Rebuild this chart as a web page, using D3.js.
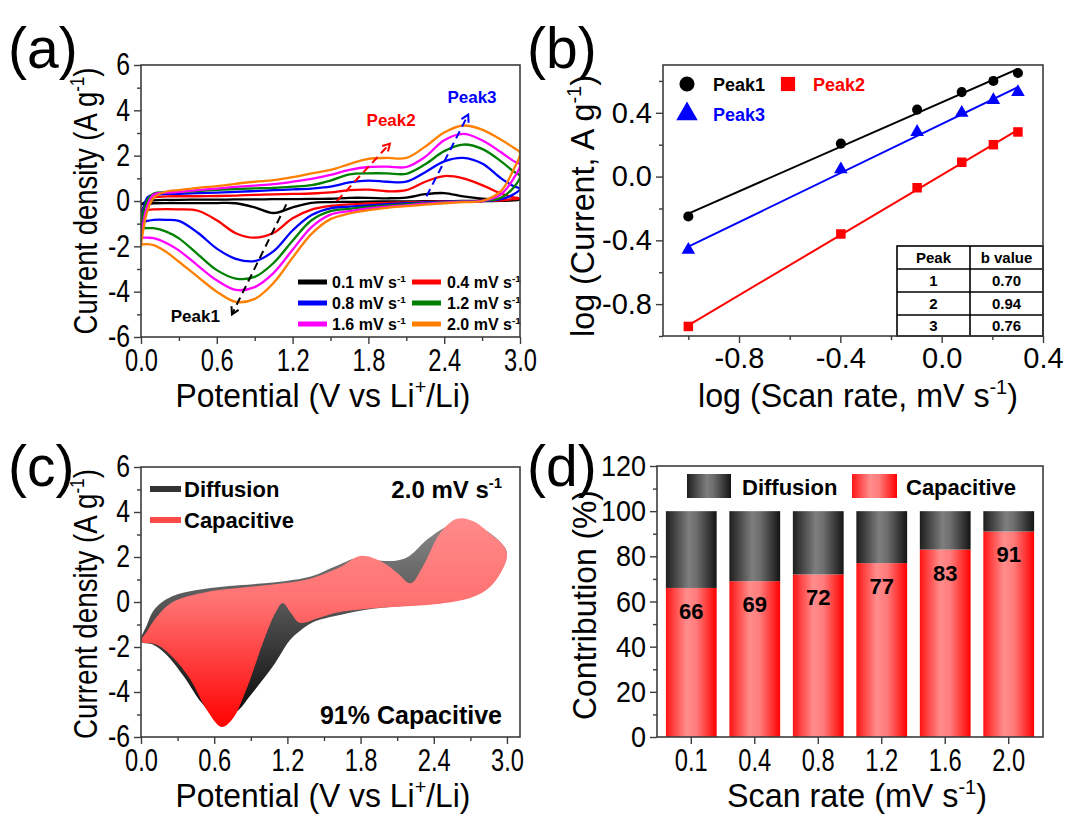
<!DOCTYPE html>
<html>
<head>
<meta charset="utf-8">
<script src="https://cdn.jsdelivr.net/npm/d3@7"></script>
<style>
  body { margin: 0; background: #fff; }
  svg text { font-family: "Liberation Sans", Arial, sans-serif; fill: #000; }
  svg text.b { font-weight: bold; }
</style>
</head>
<body>
<svg id="fig" width="1067" height="817"></svg>
<script>
// ---------- data ----------
// (a) CV curves, current density (A/g) on a shared potential grid (V)
const potA = [0, 0.05, 0.1, 0.2, 0.3, 0.45, 0.6, 0.75, 0.9, 1.05, 1.2, 1.35, 1.5, 1.65, 1.8, 1.95, 2.1, 2.25, 2.4, 2.55, 2.7, 2.85, 2.95, 3.0];
const up01 = [-0.15, -0.02, 0.03, 0.05, 0.05, 0.06, 0.06, 0.07, 0.07, 0.08, 0.08, 0.09, 0.1, 0.14, 0.14, 0.12, 0.15, 0.3, 0.35, 0.2, 0.1, 0.06, 0.05, 0.05];
const lo01 = [-0.15, -0.12, -0.1, -0.09, -0.09, -0.09, -0.09, -0.1, -0.28, -0.53, -0.28, -0.08, -0.05, -0.04, -0.03, -0.02, -0.02, -0.01, -0.01, 0, 0, 0.01, 0.03, 0.05];
const up04 = [-0.45, -0.05, 0.15, 0.2, 0.21, 0.21, 0.22, 0.24, 0.27, 0.29, 0.31, 0.33, 0.38, 0.48, 0.5, 0.43, 0.48, 0.85, 1.1, 1.0, 0.7, 0.33, 0.16, 0.12];
const lo04 = [-0.45, -0.4, -0.37, -0.36, -0.37, -0.43, -0.85, -1.42, -1.62, -1.4, -0.76, -0.38, -0.22, -0.15, -0.11, -0.08, -0.06, -0.04, -0.02, -0.01, 0, 0.03, 0.08, 0.12];
const up08 = [-0.96, 0.15, 0.28, 0.31, 0.32, 0.35, 0.37, 0.4, 0.44, 0.48, 0.51, 0.55, 0.63, 0.82, 0.9, 0.85, 0.85, 1.27, 1.75, 1.9, 1.65, 1.0, 0.65, 0.54];
const lo08 = [-0.96, -0.88, -0.83, -0.83, -0.88, -1.4, -2.1, -2.55, -2.65, -2.21, -1.3, -0.62, -0.32, -0.25, -0.19, -0.14, -0.1, -0.06, -0.03, -0.01, 0, 0.08, 0.3, 0.54];
const up12 = [-1.18, 0.05, 0.33, 0.38, 0.4, 0.44, 0.49, 0.53, 0.56, 0.58, 0.63, 0.7, 0.9, 1.17, 1.22, 1.22, 1.2, 1.62, 2.2, 2.49, 2.3, 1.75, 1.3, 1.1];
const lo12 = [-1.18, -1.2, -1.2, -1.35, -1.65, -2.35, -3.05, -3.42, -3.35, -2.73, -1.75, -0.85, -0.45, -0.35, -0.26, -0.19, -0.14, -0.09, -0.05, -0.02, 0, 0.15, 0.6, 1.1];
const up16 = [-1.62, -0.2, 0.29, 0.37, 0.4, 0.48, 0.55, 0.62, 0.68, 0.74, 0.85, 0.98, 1.15, 1.37, 1.5, 1.52, 1.5, 1.95, 2.68, 2.96, 2.68, 2.15, 1.76, 1.6];
const lo16 = [-1.62, -1.62, -1.64, -1.85, -2.18, -2.85, -3.5, -3.92, -3.8, -3.17, -2.15, -1.15, -0.6, -0.45, -0.33, -0.25, -0.19, -0.12, -0.07, -0.03, 0, 0.3, 1.0, 1.6];
const up20 = [-1.92, -0.45, 0.14, 0.42, 0.48, 0.58, 0.66, 0.76, 0.85, 0.92, 1.05, 1.22, 1.37, 1.63, 1.86, 1.9, 1.9, 2.4, 3.02, 3.33, 3.15, 2.7, 2.35, 2.13];
const lo20 = [-1.92, -1.9, -1.95, -2.25, -2.68, -3.35, -4.0, -4.45, -4.32, -3.61, -2.5, -1.45, -0.8, -0.55, -0.4, -0.3, -0.23, -0.16, -0.1, -0.05, 0, 0.45, 1.4, 2.13];
const rateLabels = ["0.1", "0.4", "0.8", "1.2", "1.6", "2.0"];
const rateColors = ["#000000", "#ff0000", "#0000ff", "#008000", "#ff00ff", "#ff8000"];
const peakNames = ["Peak1", "Peak2", "Peak3"];
const peakColors = ["#000000", "#ff0000", "#0000ff"];
const peakArrowFrom = [[1.15, -0.15], [1.55, 0.0], [2.26, 0.21]];
const peakArrowTo = [[0.72, -5.0], [1.97, 2.53], [2.59, 3.81]];
const peakLabelAt = [[0.43, -5.35], [1.98, 3.33], [2.62, 4.34]];

// (b) log(peak current) vs log(scan rate)
const scanRates = [0.1, 0.4, 0.8, 1.2, 1.6, 2.0];
const peak1Log = [-0.25, 0.207, 0.42, 0.53, 0.60, 0.65];
const peak2Log = [-0.94, -0.36, -0.07, 0.09, 0.20, 0.28];
const peak3Log = [-0.46, 0.045, 0.28, 0.40, 0.48, 0.53];
const tablePeaks = ["1", "2", "3"];
const tableB = ["0.70", "0.94", "0.76"];

// (c) 2.0 mV/s: total CV and capacitive part
const totUpV = [0, 0.05, 0.1, 0.2, 0.3, 0.5, 0.8, 1.1, 1.4, 1.6, 1.8, 1.95, 2.1, 2.2, 2.35, 2.5, 2.6, 2.75, 2.9, 3.0];
const totUpI = [-1.76, -1.0, -0.4, 0.1, 0.35, 0.57, 0.74, 0.88, 1.15, 1.6, 2.0, 1.85, 1.85, 2.05, 2.8, 3.35, 3.6, 3.4, 2.9, 2.2];
const totLoV = [3.0, 2.95, 2.86, 2.72, 2.45, 2.2, 1.9, 1.63, 1.41, 1.3, 1.22, 1.08, 0.89, 0.8, 0.66, 0.5, 0.35, 0.2, 0.1];
const totLoI = [2.2, 1.4, 0.68, 0.24, -0.05, -0.15, -0.3, -0.58, -0.9, -1.3, -1.7, -2.87, -4.2, -4.8, -5.3, -4.5, -3.3, -2.3, -1.9];
const capUpV = [0, 0.05, 0.13, 0.26, 0.54, 0.8, 1.08, 1.36, 1.63, 1.8, 1.97, 2.1, 2.21, 2.31, 2.45, 2.59, 2.72, 2.86, 2.98, 3.0];
const capUpI = [-1.76, -1.3, -0.65, 0.0, 0.45, 0.62, 0.78, 1.0, 1.55, 2.05, 1.8, 1.3, 0.83, 1.57, 3.05, 3.7, 3.6, 3.05, 2.45, 2.0];
const capLoV = [2.95, 2.86, 2.72, 2.45, 1.9, 1.6, 1.45, 1.3, 1.23, 1.16, 1.1, 1.0, 0.87, 0.75, 0.66, 0.54, 0.4, 0.26, 0.13];
const capLoI = [1.3, 0.67, 0.22, -0.08, -0.28, -0.48, -0.72, -0.92, -0.5, -0.05, -0.5, -1.8, -3.8, -5.2, -5.55, -4.8, -3.4, -2.45, -1.9];

// (d) contribution (%)
const rateTicks = ["0.1", "0.4", "0.8", "1.2", "1.6", "2.0"];
const capacitivePct = [66, 69, 72, 77, 83, 91];
const diffusionPct = [34, 31, 28, 23, 17, 9];

// ---------- helpers ----------
const svg = d3.select("#fig");
const defs = svg.append("defs");
const frameColor = "#3c3c3c";

function rich(sel, parts, fs) {
  let up = false;
  parts.forEach(p => {
    const sup = Array.isArray(p);
    const t = sel.append("tspan").text(sup ? p[0] : p);
    if (sup) {
      t.attr("font-size", fs * 0.62);
      if (!up) { t.attr("dy", -0.4 * fs); up = true; }
    } else if (up) {
      t.attr("dy", 0.4 * fs); up = false;
    }
  });
  return sel;
}

function frame(x, y) {
  svg.append("rect")
    .attr("x", x.range()[0]).attr("y", y.range()[1])
    .attr("width", x.range()[1] - x.range()[0])
    .attr("height", y.range()[0] - y.range()[1])
    .attr("fill", "none").attr("stroke", frameColor).attr("stroke-width", 1.6);
}

// sx squeezes tick labels horizontally (the figure uses a narrow face)
function styleAxis(g, sx, fs) {
  g.select(".domain").remove();
  g.selectAll(".tick line").attr("stroke", frameColor).attr("stroke-width", 1.4);
  g.selectAll(".tick text").attr("font-size", fs || 29).attr("fill", "#000")
    .attr("transform", `scale(${sx || 1},1)`)
    .attr("x", function () { return (+d3.select(this).attr("x") || 0) / (sx || 1); });
}

function bottomAxis(x, y0, major, minor, fmt, sx, fs) {
  svg.append("g").attr("transform", `translate(0,${y0})`)
    .call(d3.axisBottom(x).tickValues(major).tickSize(7).tickPadding(4).tickFormat(fmt))
    .call(styleAxis, sx, fs);
  if (minor) svg.append("g").attr("transform", `translate(0,${y0})`)
    .call(d3.axisBottom(x).tickValues(minor).tickSize(4).tickFormat(""))
    .call(styleAxis);
}

function leftAxis(y, x0, major, minor, fmt, sx, fs) {
  svg.append("g").attr("transform", `translate(${x0},0)`)
    .call(d3.axisLeft(y).tickValues(major).tickSize(7).tickPadding(4).tickFormat(fmt))
    .call(styleAxis, sx, fs);
  if (minor) svg.append("g").attr("transform", `translate(${x0},0)`)
    .call(d3.axisLeft(y).tickValues(minor).tickSize(4).tickFormat(""))
    .call(styleAxis);
}

// axis titles: measured, then squeezed to the width seen in the figure
function title(x, y, rot, parts, w) {
  const g = svg.append("g");
  const t = rich(g.append("text").attr("text-anchor", "middle").attr("font-size", 33), parts, 33);
  const sx = w / t.node().getComputedTextLength();
  g.attr("transform", `translate(${x},${y}) rotate(${rot}) scale(${sx},1)`);
}
const xTitle = (cx, y, parts, w) => title(cx, y, 0, parts, w);
const yTitle = (x, cy, parts, w) => title(x, cy, -90, parts, w);

function panelLetter(x, y, s) {
  svg.append("text").attr("x", x).attr("y", y).attr("font-size", 57).text(s);
}
const fix1 = d => d.toFixed(1);
const int = d => String(d);

// ---------- (a) ----------
const xA = d3.scaleLinear([0, 3], [141, 520]);
const yA = d3.scaleLinear([-6, 6], [337, 65]);
defs.append("clipPath").attr("id", "clipA").append("rect")
  .attr("x", 141).attr("y", 65).attr("width", 379).attr("height", 272);

const cvCurves = [
  { up: up01, lo: lo01 }, { up: up04, lo: lo04 }, { up: up08, lo: lo08 },
  { up: up12, lo: lo12 }, { up: up16, lo: lo16 }, { up: up20, lo: lo20 }
];
const cvLine = d3.line().x(d => xA(d[0])).y(d => yA(d[1])).curve(d3.curveCatmullRom.alpha(0.5));
const gA = svg.append("g").attr("clip-path", "url(#clipA)");
cvCurves.forEach((c, i) => {
  const pts = potA.map((v, k) => [v, c.up[k]]);
  for (let k = potA.length - 2; k >= 0; k--) pts.push([potA[k], c.lo[k]]);
  gA.append("path").attr("d", cvLine(pts)).attr("fill", "none")
    .attr("stroke", rateColors[i]).attr("stroke-width", 2.3);
});

peakColors.forEach((col, i) => {
  defs.append("marker").attr("id", "arr" + i).attr("viewBox", "0 0 10 10")
    .attr("refX", 8).attr("refY", 5).attr("markerWidth", 10).attr("markerHeight", 10)
    .attr("markerUnits", "userSpaceOnUse").attr("orient", "auto")
    .append("path").attr("d", "M1,1 L8,5 L1,9").attr("fill", "none")
    .attr("stroke", col).attr("stroke-width", 2);
  svg.append("line")
    .attr("x1", xA(peakArrowFrom[i][0])).attr("y1", yA(peakArrowFrom[i][1]))
    .attr("x2", xA(peakArrowTo[i][0])).attr("y2", yA(peakArrowTo[i][1]))
    .attr("stroke", col).attr("stroke-width", 2).attr("stroke-dasharray", "8,5")
    .attr("marker-end", `url(#arr${i})`);
  svg.append("text").attr("class", "b").attr("x", xA(peakLabelAt[i][0])).attr("y", yA(peakLabelAt[i][1]))
    .attr("text-anchor", "middle").attr("font-size", 17).style("fill", col).text(peakNames[i]);
});

rateLabels.forEach((r, i) => {
  const col = i % 2, row = Math.floor(i / 2);
  const ly = 282 + row * 21;
  svg.append("line").attr("x1", 298 + col * 114).attr("x2", 327 + col * 114)
    .attr("y1", ly).attr("y2", ly).attr("stroke", rateColors[i]).attr("stroke-width", 5);
  rich(svg.append("text").attr("class", "b").attr("x", 332 + col * 115).attr("y", ly + 6).attr("font-size", 16),
    [r + " mV s", ["-1"]], 16);
});

frame(xA, yA);
bottomAxis(xA, 337, d3.range(0, 3.01, 0.6), d3.range(0.3, 3, 0.6), fix1, 0.74, 32);
leftAxis(yA, 141, d3.range(-6, 7, 2), d3.range(-5, 6, 2), int, 0.8, 31);
xTitle(323, 407, ["Potential (V vs Li", ["+"], "/Li)"], 295);
yTitle(97, 201, ["Current density (A g", ["-1"], ")"], 267);
panelLetter(8, 68, "(a)");

// ---------- (b) ----------
const xB = d3.scaleLinear([-1.1, 0.4], [663, 1043]);
const yB = d3.scaleLinear([-1.0, 0.7], [336, 65]);
const logRate = scanRates.map(Math.log10);
const series = [peak1Log, peak2Log, peak3Log];

function fit(xs, ys) {
  const mx = d3.mean(xs), my = d3.mean(ys);
  const s = d3.sum(xs, (x, i) => (x - mx) * (ys[i] - my)) / d3.sum(xs, x => (x - mx) ** 2);
  return [s, my - s * mx];
}

const symType = [d3.symbolCircle, d3.symbolSquare, d3.symbolTriangle];
const symSize = [80, 90, 80];
series.forEach((ys, i) => {
  const [s, c] = fit(logRate, ys);
  const x0 = d3.min(logRate), x1 = d3.max(logRate);
  svg.append("line").attr("x1", xB(x0)).attr("y1", yB(s * x0 + c))
    .attr("x2", xB(x1)).attr("y2", yB(s * x1 + c))
    .attr("stroke", peakColors[i]).attr("stroke-width", 2);
  svg.selectAll(null).data(ys).enter().append("path")
    .attr("d", d3.symbol(symType[i], symSize[i]))
    .attr("transform", (d, k) => `translate(${xB(logRate[k])},${yB(d)})`)
    .attr("fill", peakColors[i]);
});

// legend (b)
const legB = [[687, 84, 0, 713], [788, 84, 1, 813], [687, 114, 2, 713]];
legB.forEach(([sx, sy, i, tx]) => {
  svg.append("path").attr("d", d3.symbol(symType[i], i === 0 ? 180 : 200))
    .attr("transform", `translate(${sx},${sy})`).attr("fill", peakColors[i]);
  svg.append("text").attr("class", "b").attr("x", tx).attr("y", sy + 7)
    .attr("font-size", 18).style("fill", peakColors[i]).text(peakNames[i]);
});

// table (b)
const tbl = svg.append("g");
const colX = [897, 970, 1043], rowY = [246, 269, 292, 315, 336];
tbl.append("rect").attr("x", 897).attr("y", 246).attr("width", 146).attr("height", 90)
  .attr("fill", "#fff").attr("stroke", "#000").attr("stroke-width", 1.6);
tbl.append("line").attr("x1", 970).attr("x2", 970).attr("y1", 246).attr("y2", 336)
  .attr("stroke", "#000").attr("stroke-width", 1.6);
rowY.slice(1, 4).forEach(y => tbl.append("line").attr("x1", 897).attr("x2", 1043)
  .attr("y1", y).attr("y2", y).attr("stroke", "#000").attr("stroke-width", 1.6));
const cells = [["Peak", "b value"]].concat(tablePeaks.map((p, i) => [p, tableB[i]]));
cells.forEach((row, r) => row.forEach((t, c) => {
  tbl.append("text").attr("class", "b").attr("x", (colX[c] + colX[c + 1]) / 2)
    .attr("y", (rowY[r] + rowY[r + 1]) / 2 + 5.5).attr("text-anchor", "middle")
    .attr("font-size", 15).text(t);
}));

frame(xB, yB);
bottomAxis(xB, 336, [-0.8, -0.4, 0, 0.4], [-1.0, -0.6, -0.2, 0.2], fix1, 1, 29);
leftAxis(yB, 663, [-0.8, -0.4, 0, 0.4], [-1.0, -0.6, -0.2, 0.2, 0.6], fix1, 1, 29);
xTitle(858, 407, ["log (Scan rate, mV s", ["-1"], ")"], 320);
yTitle(594, 206, ["log (Current, A g", ["-1"], ")"], 262);
panelLetter(527, 68, "(b)");

// ---------- (c) ----------
const xC = d3.scaleLinear([0, 3.107], [141, 520]);
const yC = d3.scaleLinear([-6, 6], [737, 467]);
defs.append("clipPath").attr("id", "clipC").append("rect")
  .attr("x", 141).attr("y", 467).attr("width", 379).attr("height", 270);
const gDark = defs.append("linearGradient").attr("id", "gDark").attr("gradientUnits", "userSpaceOnUse")
  .attr("x1", 0).attr("x2", 0).attr("y1", yC(3.8)).attr("y2", yC(-5));
gDark.append("stop").attr("offset", 0).attr("stop-color", "#8c8c8c");
gDark.append("stop").attr("offset", 0.45).attr("stop-color", "#555");
gDark.append("stop").attr("offset", 1).attr("stop-color", "#0a0a0a");
const gRed = defs.append("linearGradient").attr("id", "gRed").attr("gradientUnits", "userSpaceOnUse")
  .attr("x1", 0).attr("x2", 0).attr("y1", yC(3.8)).attr("y2", yC(-5.6));
gRed.append("stop").attr("offset", 0).attr("stop-color", "#ff8a8a");
gRed.append("stop").attr("offset", 0.4).attr("stop-color", "#ff7272");
gRed.append("stop").attr("offset", 1).attr("stop-color", "#ff0000");

const loopC = d3.line().x(d => xC(d[0])).y(d => yC(d[1])).curve(d3.curveCatmullRomClosed.alpha(0.5));
const gC = svg.append("g").attr("clip-path", "url(#clipC)");
const totPts = totUpV.map((v, k) => [v, totUpI[k]]).concat(totLoV.slice(1).map((v, k) => [v, totLoI[k + 1]]));
const capPts = capUpV.map((v, k) => [v, capUpI[k]]).concat(capLoV.map((v, k) => [v, capLoI[k]]));
gC.append("path").attr("d", loopC(totPts)).attr("fill", "url(#gDark)");
gC.append("path").attr("d", loopC(capPts)).attr("fill", "url(#gRed)");

svg.append("rect").attr("x", 150).attr("y", 486).attr("width", 31).attr("height", 6).attr("fill", "#333");
svg.append("rect").attr("x", 150).attr("y", 517).attr("width", 31).attr("height", 6).attr("fill", "#ff4a4a");
svg.append("text").attr("class", "b").attr("x", 184).attr("y", 497).attr("font-size", 22).text("Diffusion");
svg.append("text").attr("class", "b").attr("x", 184).attr("y", 528).attr("font-size", 22).text("Capacitive");
rich(svg.append("text").attr("class", "b").attr("x", 502).attr("y", 498).attr("text-anchor", "end").attr("font-size", 24),
  ["2.0 mV s", ["-1"]], 24);
svg.append("text").attr("class", "b").attr("x", 502).attr("y", 724).attr("text-anchor", "end")
  .attr("font-size", 25).text("91% Capacitive");

frame(xC, yC);
bottomAxis(xC, 737, d3.range(0, 3.01, 0.6), d3.range(0.3, 3.1, 0.6), fix1, 0.74, 32);
leftAxis(yC, 141, d3.range(-6, 7, 2), d3.range(-5, 6, 2), int, 0.8, 31);
xTitle(323, 807, ["Potential (V vs Li", ["+"], "/Li)"], 295);
yTitle(97, 604, ["Current density (A g", ["-1"], ")"], 270);
panelLetter(8, 486, "(c)");

// ---------- (d) ----------
const xD = d3.scaleBand(rateTicks, [657, 1043]).paddingInner(0.2).paddingOuter(0.14);
const yD = d3.scaleLinear([0, 120], [737, 466]);

const gBarRed = defs.append("linearGradient").attr("id", "gBarRed");
[[0, "#ff1414"], [0.4, "#ff8c8c"], [0.6, "#ff7c7c"], [1, "#ff0000"]]
  .forEach(([o, c]) => gBarRed.append("stop").attr("offset", o).attr("stop-color", c));
const gBarDark = defs.append("linearGradient").attr("id", "gBarDark");
[[0, "#1e1e1e"], [0.45, "#7e7e7e"], [0.6, "#6e6e6e"], [1, "#141414"]]
  .forEach(([o, c]) => gBarDark.append("stop").attr("offset", o).attr("stop-color", c));

svg.selectAll(".capBar").data(capacitivePct).enter().append("rect")
  .attr("x", (d, i) => xD(rateTicks[i])).attr("width", xD.bandwidth())
  .attr("y", d => yD(d)).attr("height", d => yD(0) - yD(d)).attr("fill", "url(#gBarRed)");
svg.selectAll(".difBar").data(diffusionPct).enter().append("rect")
  .attr("x", (d, i) => xD(rateTicks[i])).attr("width", xD.bandwidth())
  .attr("y", (d, i) => yD(capacitivePct[i] + d)).attr("height", (d, i) => yD(capacitivePct[i]) - yD(capacitivePct[i] + d))
  .attr("fill", "url(#gBarDark)");
svg.selectAll(".barLab").data(capacitivePct).enter().append("text").attr("class", "b")
  .attr("x", (d, i) => xD(rateTicks[i]) + xD.bandwidth() / 2).attr("y", d => yD(d) + 31)
  .attr("text-anchor", "middle").attr("font-size", 22).text(d => d);

svg.append("rect").attr("x", 687).attr("y", 474).attr("width", 44).attr("height", 24).attr("fill", "url(#gBarDark)");
svg.append("text").attr("class", "b").attr("x", 742).attr("y", 495).attr("font-size", 22).text("Diffusion");
svg.append("rect").attr("x", 852).attr("y", 474).attr("width", 45).attr("height", 24).attr("fill", "url(#gBarRed)");
svg.append("text").attr("class", "b").attr("x", 906).attr("y", 495).attr("font-size", 22).text("Capacitive");

frame(d3.scaleLinear().range([657, 1043]), yD);
svg.append("g").attr("transform", "translate(0,737)")
  .call(d3.axisBottom(xD).tickSize(7).tickPadding(4)).call(styleAxis, 0.74, 32);
leftAxis(yD, 657, d3.range(0, 121, 20), d3.range(10, 120, 20), int, 0.9, 30);
xTitle(857, 807, ["Scan rate (mV s", ["-1"], ")"], 260);
yTitle(596, 605, ["Contribution (%)"], 230);
panelLetter(527, 486, "(d)");
</script>
</body>
</html>
